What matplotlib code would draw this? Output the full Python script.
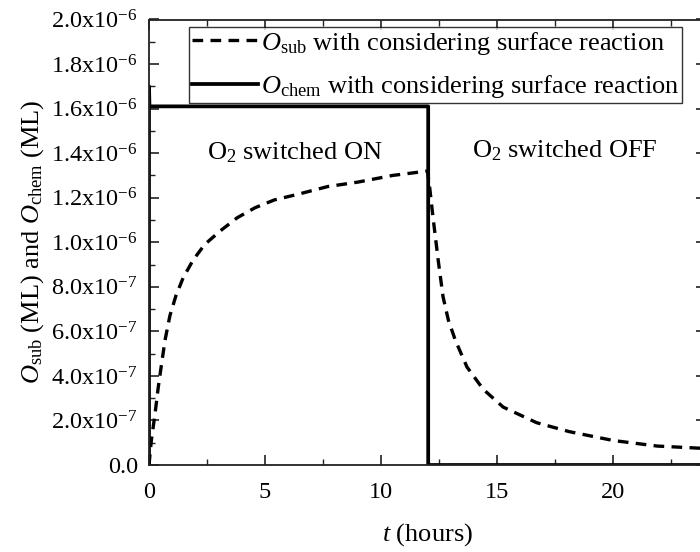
import numpy as np
import matplotlib.pyplot as plt
from matplotlib.ticker import MultipleLocator, FuncFormatter

plt.rcParams['font.family'] = 'Liberation Serif'
plt.rcParams['mathtext.fontset'] = 'custom'
plt.rcParams['mathtext.rm'] = 'Liberation Serif'
plt.rcParams['mathtext.it'] = 'Liberation Serif:italic'

# O_sub (dashed)
t_sub = [0, 0.1, 0.26, 0.4, 0.55, 0.69, 0.9, 1.16, 1.47, 1.9, 2.4, 3.06, 3.8, 4.57,
         5.4, 6.4, 7.7, 9.0, 10.5, 11.8, 12.0,
         12.1, 12.24, 12.46, 12.67, 12.9, 13.2, 13.7, 14.4, 15.26, 16.7, 18.1,
         20.0, 21.9, 24.0]
o_sub = [0, 0.11, 0.23, 0.35, 0.46, 0.56, 0.67, 0.76, 0.84, 0.92, 0.99, 1.05, 1.11, 1.155,
         1.19, 1.215, 1.25, 1.27, 1.30, 1.317, 1.32,
         1.24, 1.11, 0.92, 0.755, 0.65, 0.56, 0.44, 0.34, 0.26, 0.19, 0.15,
         0.11, 0.085, 0.074]
o_sub = np.array(o_sub) * 1e-6

# O_chem (solid step)
t_chem = [0, 0, 0.02, 12.03, 12.03, 24.0]
o_chem = np.array([0, 1.70, 1.61, 1.61, 0, 0]) * 1e-6

fig = plt.figure(figsize=(7, 5.52), dpi=100)
ax = fig.add_axes([149 / 700, 1 - 465 / 552, 557 / 700, 445.5 / 552])

ax.plot(t_sub, o_sub, color='black', lw=2.4, dashes=(3.2, 2.2),
        label=r'$O_{\mathrm{sub}}$ with considering surface reaction')
ax.plot(t_chem, o_chem, color='black', lw=2.7,
        label=r'$O_{\mathrm{chem}}$ with considering surface reaction')

ax.set_xlim(0, 24)
ax.set_ylim(0, 2.0e-6)
ax.xaxis.set_major_locator(MultipleLocator(5))
ax.xaxis.set_minor_locator(MultipleLocator(2.5))
ax.yaxis.set_major_locator(MultipleLocator(0.2e-6))
ax.yaxis.set_minor_locator(MultipleLocator(0.1e-6))


def yfmt(v, pos):
    if abs(v) < 1e-12:
        return '0.0'
    exp = int(np.floor(np.log10(abs(v)) + 1e-9))
    mant = v / 10 ** exp
    return r'%.1fx10$^{%d}$' % (mant, exp)


ax.yaxis.set_major_formatter(FuncFormatter(yfmt))
ax.tick_params(which='both', direction='in', top=True, right=True,
               labelsize=17.5, color='#222222')
ax.tick_params(axis='x', pad=12.5)
ax.tick_params(axis='y', pad=8)
ax.tick_params(which='major', length=7, width=1.2)
ax.tick_params(which='minor', length=4, width=1.0, right=False)
for s in ax.spines.values():
    s.set_linewidth(1.3)
    s.set_color('#222222')

ax.set_xlabel(r'$t$ (hours)', fontsize=19, labelpad=13)
ax.set_ylabel(r'$O_{\mathrm{sub}}$ (ML) and $O_{\mathrm{chem}}$ (ML)', fontsize=19, labelpad=4)

ax.text(6.3, 1.40e-6, r'O$_2$ switched ON', fontsize=19, ha='center', va='center')
ax.text(17.9, 1.41e-6, r'O$_2$ switched OFF', fontsize=19, ha='center', va='center')

leg = ax.legend(loc='upper left', bbox_to_anchor=((189 - 149) / 557, 1 - 7 / 445.5),
                fontsize=19, frameon=True, fancybox=False, edgecolor='black',
                handlelength=2.5, handletextpad=0.1, borderpad=0.12,
                labelspacing=0.62, borderaxespad=0)
leg.get_frame().set_linewidth(1.0)

plt.savefig('out.png', dpi=100)
